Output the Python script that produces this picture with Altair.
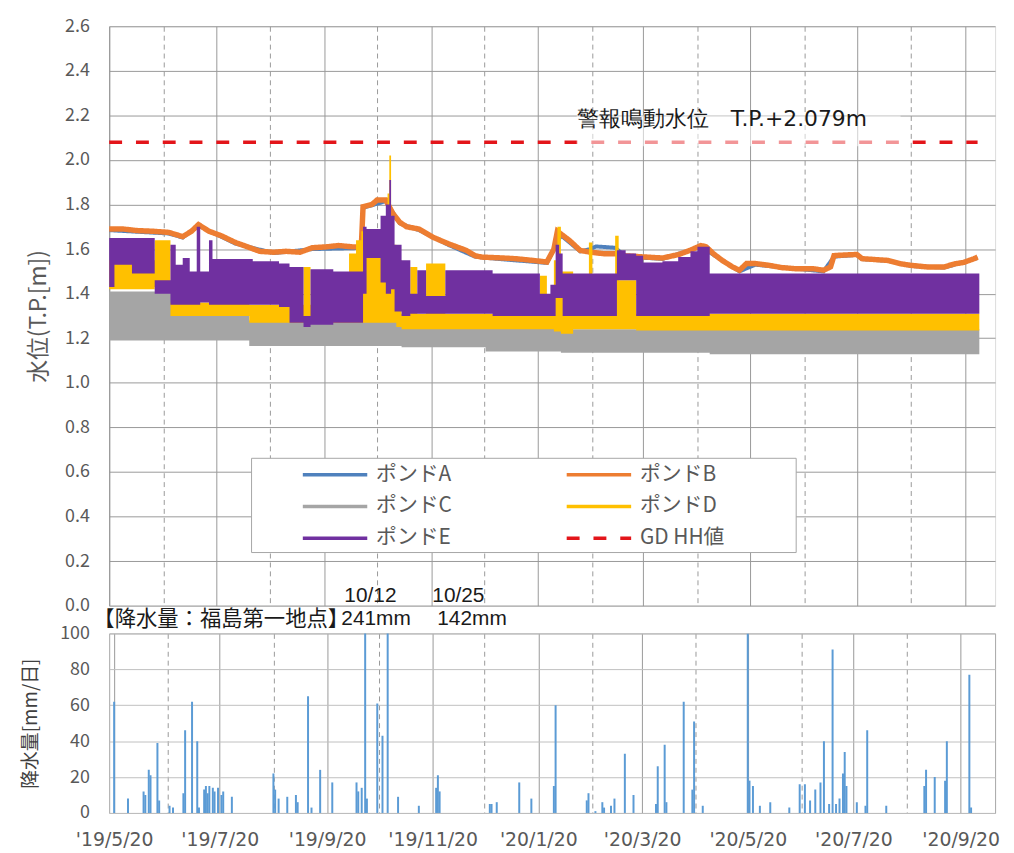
import altair as alt
import pandas as pd

# ---------------- series, colours ----------------
PONDS = ["ポンドA", "ポンドB", "ポンドC", "ポンドD", "ポンドE", "GD HH値"]
POND_COLORS = ["#4f81bd", "#ed7d31", "#a5a5a5", "#ffc000", "#7030a0", "#e3151a"]
POND_DASHES = [[1, 0], [1, 0], [1, 0], [1, 0], [1, 0], [13, 14]]

GD_HH = 2.079
GD_DATES = ["2019-05-20", "2020-09-27"]

A_DATES = ["2019-05-20", "2019-06-23", "2019-07-01", "2019-07-10", "2019-07-31", "2019-08-22",
           "2019-09-13", "2019-10-11", "2019-10-12", "2019-10-25", "2019-11-02", "2019-11-13",
           "2019-11-30", "2019-12-15", "2019-12-28", "2020-01-25", "2020-02-02", "2020-02-13",
           "2020-02-19", "2020-02-22", "2020-03-04", "2020-03-10", "2020-03-31", "2020-04-22",
           "2020-05-14", "2020-05-23", "2020-07-01", "2020-07-07", "2020-07-20", "2020-07-23",
           "2020-08-07", "2020-08-20", "2020-09-08", "2020-09-27"]
A_LEVEL = [1.685, 1.67, 1.652, 1.705, 1.625, 1.582, 1.60, 1.605, 1.785, 1.815, 1.715, 1.685,
           1.618, 1.566, 1.556, 1.538, 1.662, 1.59, 1.60, 1.612, 1.606, 1.566, 1.556, 1.61,
           1.50, 1.53, 1.50, 1.566, 1.574, 1.555, 1.547, 1.524, 1.517, 1.56]

B_DATES = ["2019-05-20", "2019-05-28", "2019-06-05", "2019-06-14", "2019-06-23", "2019-07-01",
           "2019-07-06", "2019-07-10", "2019-07-16", "2019-07-23", "2019-07-31", "2019-08-07",
           "2019-08-14", "2019-08-22", "2019-08-29", "2019-09-06", "2019-09-13", "2019-09-21",
           "2019-09-28", "2019-10-06", "2019-10-11", "2019-10-12", "2019-10-17", "2019-10-20",
           "2019-10-25", "2019-10-29", "2019-11-02", "2019-11-06", "2019-11-13", "2019-11-21",
           "2019-11-30", "2019-12-10", "2019-12-15", "2019-12-19", "2019-12-28", "2020-01-07",
           "2020-01-16", "2020-01-25", "2020-01-29", "2020-01-31", "2020-02-02", "2020-02-07",
           "2020-02-13", "2020-02-19", "2020-02-27", "2020-03-04", "2020-03-10", "2020-03-20",
           "2020-03-31", "2020-04-09", "2020-04-16", "2020-04-22", "2020-04-25", "2020-04-29",
           "2020-05-04", "2020-05-10", "2020-05-14", "2020-05-18", "2020-05-23", "2020-05-31",
           "2020-06-07", "2020-06-15", "2020-06-25", "2020-07-01", "2020-07-05", "2020-07-07",
           "2020-07-20", "2020-07-23", "2020-08-07", "2020-08-14", "2020-08-20", "2020-08-29",
           "2020-09-08", "2020-09-14", "2020-09-19", "2020-09-25", "2020-09-27"]
B_LEVEL = [1.69, 1.69, 1.683, 1.68, 1.675, 1.656, 1.68, 1.71, 1.68, 1.66, 1.63, 1.61,
           1.59, 1.586, 1.59, 1.586, 1.606, 1.61, 1.616, 1.61, 1.61, 1.79, 1.80, 1.82,
           1.82, 1.76, 1.72, 1.70, 1.69, 1.653, 1.623, 1.594, 1.57, 1.564, 1.561, 1.557,
           1.55, 1.542, 1.60, 1.68, 1.668, 1.638, 1.594, 1.586, 1.579, 1.579, 1.57, 1.565,
           1.56, 1.575, 1.595, 1.616, 1.61, 1.58, 1.55, 1.52, 1.505, 1.535, 1.535, 1.527,
           1.517, 1.512, 1.512, 1.505, 1.52, 1.571, 1.576, 1.557, 1.549, 1.534, 1.527, 1.52,
           1.52, 1.534, 1.54, 1.557, 1.564]

C_DATES = ["2019-05-20", "2019-06-25", "2019-08-08", "2019-11-03", "2019-12-21", "2020-02-02",
           "2020-04-27", "2020-09-28"]
C_LOW = [1.19, 1.19, 1.165, 1.16, 1.14, 1.135, 1.128, 1.128]
C_HIGH = [1.41, 1.30, 1.28, 1.25, 1.25, 1.24, 1.24, 1.24]

D_DATES = ["2019-05-20", "2019-06-15", "2019-06-24", "2019-08-08", "2019-09-08", "2019-09-12",
           "2019-09-28", "2019-10-04", "2019-10-08", "2019-10-11", "2019-10-12", "2019-10-22",
           "2019-10-26", "2019-10-27", "2019-10-28", "2019-10-31", "2019-11-03", "2019-11-08",
           "2019-11-12", "2019-11-17", "2019-11-28", "2020-01-21", "2020-01-25", "2020-01-29",
           "2020-01-31", "2020-02-02", "2020-02-09", "2020-02-18", "2020-02-20", "2020-03-04",
           "2020-03-06", "2020-03-16", "2020-09-28"]
D_LOW = [1.42, 1.43, 1.30, 1.27, 1.28, 1.27, 1.27, 1.27, 1.27, 1.27, 1.27, 1.27,
         1.27, 1.27, 1.27, 1.25, 1.24, 1.24, 1.24, 1.24, 1.24, 1.24, 1.24, 1.23,
         1.23, 1.22, 1.24, 1.24, 1.24, 1.24, 1.24, 1.235, 1.235]
D_HIGH = [1.55, 1.64, 1.36, 1.35, 1.52, 1.35, 1.45, 1.58, 1.64, 1.68, 1.56, 1.62,
          1.85, 2.02, 1.62, 1.55, 1.31, 1.52, 1.31, 1.535, 1.31, 1.48, 1.31, 1.55,
          1.70, 1.50, 1.31, 1.63, 1.31, 1.66, 1.46, 1.31, 1.31]

E_DATES = ["2019-05-20", "2019-05-23", "2019-06-02", "2019-06-15", "2019-06-24", "2019-06-27",
           "2019-07-01", "2019-07-05", "2019-07-09", "2019-07-11", "2019-07-16", "2019-07-18",
           "2019-08-10", "2019-08-25", "2019-08-31", "2019-09-08", "2019-09-12", "2019-09-25",
           "2019-10-12", "2019-10-14", "2019-10-22", "2019-10-25", "2019-10-27", "2019-10-28",
           "2019-10-30", "2019-11-03", "2019-11-08", "2019-11-12", "2019-11-17", "2019-11-28",
           "2019-12-25", "2020-01-21", "2020-01-27", "2020-01-30", "2020-02-01", "2020-02-03",
           "2020-03-05", "2020-03-10", "2020-03-16", "2020-03-20", "2020-03-31", "2020-04-09",
           "2020-04-16", "2020-04-20", "2020-04-27", "2020-09-28"]
E_LOW = [1.43, 1.53, 1.49, 1.40, 1.35, 1.35, 1.35, 1.35, 1.35, 1.36, 1.35, 1.35,
         1.35, 1.34, 1.27, 1.25, 1.26, 1.27, 1.40, 1.56, 1.45, 1.40, 1.40, 1.42,
         1.32, 1.30, 1.31, 1.31, 1.31, 1.31, 1.30, 1.30, 1.30, 1.38, 1.38, 1.30,
         1.46, 1.46, 1.30, 1.30, 1.30, 1.30, 1.30, 1.30, 1.31, 1.31]
E_HIGH = [1.65, 1.65, 1.65, 1.46, 1.62, 1.53, 1.56, 1.50, 1.70, 1.50, 1.64, 1.555,
          1.545, 1.535, 1.52, 1.30, 1.51, 1.50, 1.70, 1.69, 1.75, 1.80, 1.91, 1.75,
          1.62, 1.55, 1.40, 1.505, 1.39, 1.505, 1.49, 1.40, 1.44, 1.62, 1.58, 1.49,
          1.595, 1.58, 1.57, 1.54, 1.545, 1.565, 1.59, 1.61, 1.49, 1.49]

RAIN_DATES = ["2019-05-20", "2019-05-28", "2019-06-06", "2019-06-07", "2019-06-09", "2019-06-10",
              "2019-06-14", "2019-06-15", "2019-06-21", "2019-06-23", "2019-06-29", "2019-06-30",
              "2019-07-04", "2019-07-07", "2019-07-08", "2019-07-11", "2019-07-12", "2019-07-13",
              "2019-07-14", "2019-07-16", "2019-07-17", "2019-07-19", "2019-07-21", "2019-07-22",
              "2019-07-27", "2019-08-20", "2019-08-21", "2019-08-23", "2019-08-28", "2019-09-02",
              "2019-09-03", "2019-09-09", "2019-09-11", "2019-09-16", "2019-09-23", "2019-10-07",
              "2019-10-08", "2019-10-10", "2019-10-12", "2019-10-13", "2019-10-19", "2019-10-22",
              "2019-10-25", "2019-10-31", "2019-11-12", "2019-11-22", "2019-11-23", "2019-11-24",
              "2019-12-23", "2019-12-24", "2019-12-27", "2020-01-09", "2020-01-16", "2020-01-29",
              "2020-01-30", "2020-02-17", "2020-02-18", "2020-02-22", "2020-02-26", "2020-02-27",
              "2020-03-02", "2020-03-04", "2020-03-10", "2020-03-15", "2020-03-28", "2020-03-29",
              "2020-04-02", "2020-04-03", "2020-04-13", "2020-04-18", "2020-04-19", "2020-04-24",
              "2020-05-20", "2020-05-21", "2020-05-23", "2020-05-27", "2020-06-02", "2020-06-13",
              "2020-06-19", "2020-06-22", "2020-06-25", "2020-06-28", "2020-07-01", "2020-07-03",
              "2020-07-06", "2020-07-08", "2020-07-10", "2020-07-12", "2020-07-14", "2020-07-15",
              "2020-07-16", "2020-07-22", "2020-07-27", "2020-07-28", "2020-08-08", "2020-08-30",
              "2020-08-31", "2020-09-05", "2020-09-11", "2020-09-12", "2020-09-25", "2020-09-26"]
RAIN_MM = [62, 8, 12, 10, 24, 21, 39, 7, 4, 3, 11, 46,
           62, 40, 3, 13, 15, 11, 15, 14, 12, 14, 10, 12,
           9, 22, 13, 8, 9, 10, 6, 65, 3, 24, 17, 17,
           12, 14, 241, 8, 61, 43, 142, 9, 4, 14, 21, 12,
           5, 5, 6, 17, 8, 15, 60, 7, 11, 1, 6, 3,
           4, 8, 33, 10, 5, 26, 38, 6, 62, 13, 51, 4,
           100, 18, 15, 4, 6, 3, 16, 16, 7, 13, 17, 40,
           5, 91, 5, 8, 22, 34, 15, 6, 4, 46, 4, 15,
           24, 20, 18, 40, 77, 3]

RAIN_TITLE = "【降水量：福島第一地点】"
GD_TEXT = "警報鳴動水位\u3000T.P.+%.3fm" % GD_HH

# axis ticks (20th of every month) and value ticks
TICK_MONTHS = [(2019, m) for m in range(5, 13)] + [(2020, m) for m in range(1, 10)]
LEVEL_TICKS = [0.0, 0.2, 0.4, 0.6, 0.8, 1.0, 1.2, 1.4, 1.6, 1.8, 2.0, 2.2, 2.4, 2.6]
RAIN_TICKS = [0, 20, 40, 60, 80, 100]

# ---------------- data frames ----------------
def line_df(dates, vals, name):
    return pd.DataFrame({"date": pd.to_datetime(dates), "level": vals, "pond": name})

def band_df(dates, lo, hi):
    return pd.DataFrame({"date": pd.to_datetime(dates), "lo": lo, "hi": hi})

a_df = line_df(A_DATES, A_LEVEL, PONDS[0])
b_df = line_df(B_DATES, B_LEVEL, PONDS[1])
gd_df = line_df(GD_DATES, [GD_HH, GD_HH], PONDS[5])
c_df = band_df(C_DATES, C_LOW, C_HIGH)
d_df = band_df(D_DATES, D_LOW, D_HIGH)
e_df = band_df(E_DATES, E_LOW, E_HIGH)
rain_df = pd.DataFrame({"date": pd.to_datetime(RAIN_DATES), "rain": RAIN_MM})

# ---------------- styling ----------------
W = 893
H_TOP = 584
H_BOT = 181
JP = "Noto Sans CJK JP"
GRAY_TXT = "#595959"
GRID = "#999999"

x_start = alt.DateTime(year=2019, month=5, date=20)
x_scale = alt.Scale(domain=[x_start, alt.DateTime(year=2020, month=10, date=7)])
tick_values = [alt.DateTime(year=y, month=m, date=20) for (y, m) in TICK_MONTHS]
grid_dash = {"condition": {"test": "month(datum.value) % 2 == 1", "value": [5, 4]}, "value": []}

x_axis_top = alt.Axis(values=tick_values, labels=False, ticks=False, domain=False, grid=True,
                      gridColor=GRID, gridDash=grid_dash, title=None)
x_axis_bot = alt.Axis(values=tick_values, ticks=False, domain=False, grid=True,
                      gridColor=GRID, gridDash=grid_dash, title=None, labelOverlap=False,
                      labelExpr="month(datum.value) % 2 == 0 ? \"'\" + timeFormat(datum.value, '%y/%-m/%-d') : ''",
                      labelFont="DejaVu Sans", labelFontSize=19, labelColor=GRAY_TXT, labelPadding=18)

y_axis_top = alt.Axis(values=LEVEL_TICKS, format=".1f", ticks=False, domain=True, domainColor=GRID,
                      grid=True, gridColor=GRID, labelFont=JP, labelFontSize=18,
                      labelColor=GRAY_TXT, labelPadding=20, title="水位(T.P.[m])",
                      titleFont=JP, titleFontSize=23, titleFontWeight="normal", titleColor=GRAY_TXT,
                      titleX=-71, titleBaseline="middle")
y_axis_bot = alt.Axis(values=RAIN_TICKS, ticks=False, domain=False, grid=True, gridColor="#bfbfbf",
                      labelFont=JP, labelFontSize=18, labelColor=GRAY_TXT, labelPadding=20,
                      title="降水量[mm/日]", titleFont=JP, titleFontSize=19,
                      titleFontWeight="normal", titleColor="#404040",
                      titleX=-79, titleBaseline="middle")

level_scale = alt.Scale(domain=[0, 2.6], nice=False)

# long line symbols: visible stroke from -r to 5r (r = sqrt(size)/2), plus an
# invisible move-to further right that widens each entry (legend box margin)
legend = alt.Legend(orient="none", legendX=143, legendY=435, columns=2, direction="horizontal",
                    title="■", titleOrient="left", titleFontSize=4, titleColor="white",
                    titlePadding=43,
                    symbolType="M-1,0H5M19.23,0", symbolSize=469, symbolStrokeWidth=3.5,
                    labelFont=JP, labelFontSize=21, labelColor=GRAY_TXT, labelOffset=50,
                    rowPadding=9, columnPadding=32, padding=4,
                    strokeColor="#a6a6a6", fillColor="white")

color_enc = alt.Color("pond:N", scale=alt.Scale(domain=PONDS, range=POND_COLORS), legend=legend)
dash_enc = alt.StrokeDash("pond:N", scale=alt.Scale(domain=PONDS, range=POND_DASHES), legend=legend)

def xenc(axis):
    return alt.X("date:T", scale=x_scale, axis=axis)

def ytop(field):
    return alt.Y(field, scale=level_scale, axis=y_axis_top)

line_a = alt.Chart(a_df).mark_line(strokeWidth=4).encode(
    x=xenc(x_axis_top), y=ytop("level:Q"), color=color_enc, strokeDash=dash_enc)
line_b = alt.Chart(b_df).mark_line(strokeWidth=5.5).encode(
    x=xenc(x_axis_top), y=ytop("level:Q"), color=color_enc, strokeDash=dash_enc)

def band(df, color):
    return alt.Chart(df).mark_area(interpolate="step-after", color=color, opacity=1).encode(
        x=xenc(x_axis_top), y=ytop("lo:Q"), y2="hi:Q")

band_c = band(c_df, POND_COLORS[2])
band_d = band(d_df, POND_COLORS[3])
band_e = band(e_df, POND_COLORS[4])

line_gd = alt.Chart(gd_df).mark_line(strokeWidth=3.5).encode(
    x=xenc(x_axis_top), y=ytop("level:Q"), color=color_enc, strokeDash=dash_enc)

# label of the alarm level, in a half-transparent text box over the dashed line
label_start = alt.DateTime(year=2020, month=2, date=11)
label_end = alt.DateTime(year=2020, month=8, date=14)
gd_box = alt.Chart(gd_df).transform_aggregate(level="max(level)").mark_rect(
    color="white", opacity=0.55).encode(
    x=alt.datum(label_start), x2=alt.datum(label_end),
    y=alt.Y("level:Q", scale=level_scale, axis=y_axis_top),
    y2=alt.datum(GD_HH + 0.12), yOffset=alt.value(4))
gd_label = alt.Chart(gd_df).transform_aggregate(level="max(level)").mark_text(
    align="left", baseline="middle", dy=-23, fontSize=22, font="DejaVu Sans", color="#1a1a1a").encode(
    x=alt.datum(label_start),
    y=alt.Y("level:Q", scale=level_scale, axis=y_axis_top),
    text=alt.value(GD_TEXT))

top = alt.layer(line_a, line_b, band_c, band_d, band_e, line_gd, gd_box, gd_label).properties(
    width=W, height=H_TOP)

# ---------------- rainfall ----------------
rain_scale = alt.Scale(domain=[0, 100], nice=False)
bars = alt.Chart(rain_df).mark_bar(size=2, color="#5b9bd5", clip=True).encode(
    x=xenc(x_axis_bot), y=alt.Y("rain:Q", scale=rain_scale, axis=y_axis_bot))

big = rain_df[rain_df["rain"] > 100].reset_index(drop=True)

def big_label(row, dx1, dx2):
    sub = big.iloc[[row]]
    base = alt.Chart(sub).transform_calculate(
        md="timeFormat(datum.date, '%-m/%-d')", mm="datum.rain + 'mm'")
    t1 = base.mark_text(align="left", baseline="middle", dx=dx1, dy=-38, fontSize=21,
                        font="Liberation Sans", color="#1a1a1a").encode(
        x=xenc(x_axis_bot), y=alt.value(0), text="md:N")
    t2 = base.mark_text(align="left", baseline="middle", dx=dx2, dy=-14, fontSize=21,
                        font="Liberation Sans", color="#1a1a1a").encode(
        x=xenc(x_axis_bot), y=alt.value(0), text="mm:N")
    return [t1, t2]

rain_title = alt.Chart(rain_df.head(1)).mark_text(
    align="left", baseline="middle", dx=-21, dy=-13, fontSize=21.5, font=JP, color="#1a1a1a").encode(
    x=alt.datum(x_start), y=alt.value(0), text=alt.value(RAIN_TITLE))

bottom = alt.layer(bars, *big_label(0, -21, -24), *big_label(1, 45, 50), rain_title).properties(
    width=W, height=H_BOT,
    view=alt.ViewBackground(stroke="#a6a6a6", strokeWidth=1))

chart = alt.vconcat(top, bottom, spacing=28, bounds="flush").properties(
    padding={"left": 13, "top": 5, "right": 5, "bottom": 5}
).configure_view(stroke=None).configure(background="white")

chart.save("out.html", embed_options={"renderer": "svg", "actions": False})
